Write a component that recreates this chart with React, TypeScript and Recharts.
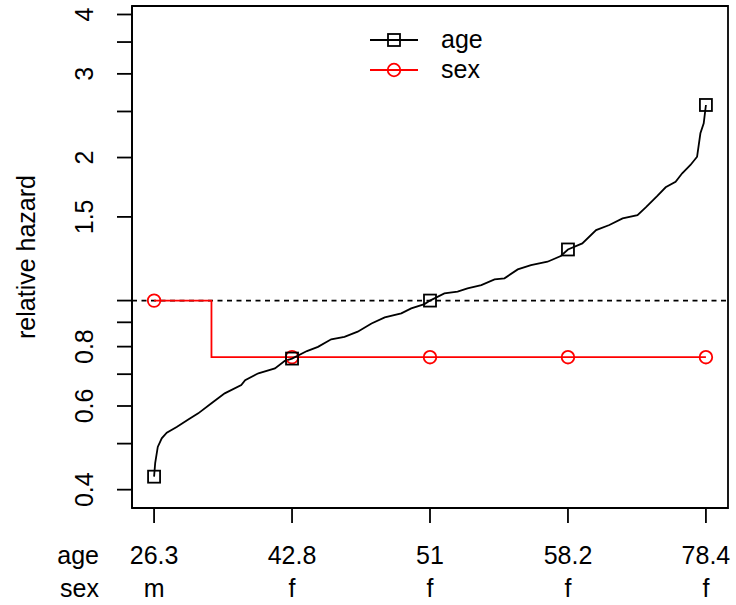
import React from 'react';
import { ComposedChart, Line, XAxis, YAxis, ReferenceLine, ReferenceArea } from 'recharts';

// position along the sorted observations (percent) and relative hazard for age
const ageX = [0, 0.2, 0.67, 1.39, 2.3, 4.1, 6.2, 8.0, 10.4, 12.8, 15.8, 16.5, 18.9, 21.9, 23.7, 25,
  27.7, 29.7, 32.1, 34.5, 36.9, 39.4, 41.8, 44.8, 46.6, 49.0, 50,
  52.6, 55.0, 56.8, 59.3, 61.7, 63.5, 65.9, 68.3, 71.3, 73.7, 75,
  77.6, 80.1, 82.5, 84.9, 87.6, 89.1, 91.2, 92.7, 94.5, 95.7, 97.2, 98.4, 99.0, 99.6, 100];
const ageHazard = [0.426, 0.455, 0.492, 0.513, 0.527, 0.542, 0.562, 0.579, 0.608, 0.638, 0.664, 0.680, 0.703, 0.720, 0.747, 0.755,
  0.783, 0.799, 0.829, 0.839, 0.860, 0.895, 0.922, 0.940, 0.963, 0.983, 1.0,
  1.035, 1.044, 1.061, 1.078, 1.108, 1.114, 1.163, 1.188, 1.207, 1.241, 1.281,
  1.319, 1.407, 1.442, 1.489, 1.513, 1.571, 1.660, 1.731, 1.779, 1.853, 1.929, 2.008, 2.249, 2.361, 2.58];

// relative hazard for sex (step function)
const sexX = [0, 10.4, 25, 50, 75, 100];
const sexHazard = [1, 0.76, 0.76, 0.76, 0.76, 0.76];

// marked positions and their labels
const markerX = [0, 25, 50, 75, 100];
const ageTickLabels = ['26.3', '42.8', '51', '58.2', '78.4'];
const sexTickLabels = ['m', 'f', 'f', 'f', 'f'];

const yTicks = [0.4, 0.5, 0.6, 0.7, 0.8, 0.9, 1, 1.5, 2, 2.5, 3, 3.5, 4];
const yLabelled = [0.4, 0.6, 0.8, 1.5, 2, 3, 4];

const ageData = ageX.map((x, i) => ({ x, v: ageHazard[i] }));
const sexData = sexX.map((x, i) => ({ x, v: sexHazard[i] }));

const FONT = 'Liberation Sans, Arial, Helvetica, sans-serif';
const FS = 25;
const LW = 1.8;

const squareDot = (props: any) => {
  const { cx, cy, payload, index } = props;
  if (!markerX.includes(payload.x)) return <g key={'a' + index} />;
  return <rect key={'a' + index} x={cx - 6} y={cy - 6} width={12} height={12} fill="none" stroke="#000" strokeWidth={LW} />;
};

const circleDot = (props: any) => {
  const { cx, cy, payload, index } = props;
  if (!markerX.includes(payload.x)) return <g key={'s' + index} />;
  return <circle key={'s' + index} cx={cx} cy={cy} r={6.3} fill="none" stroke="#ff0000" strokeWidth={LW} />;
};

const XTick = (props: any) => {
  const { x, y, payload, index } = props;
  const i = markerX.indexOf(payload.value);
  return (
    <g>
      {index === 0 && (
        <>
          <text x={99} y={y + 39} textAnchor="end" fontFamily={FONT} fontSize={FS} fill="#000">age</text>
          <text x={99} y={y + 72} textAnchor="end" fontFamily={FONT} fontSize={FS} fill="#000">sex</text>
        </>
      )}
      <text x={x} y={y + 39} textAnchor="middle" fontFamily={FONT} fontSize={FS} fill="#000">{ageTickLabels[i]}</text>
      <text x={x} y={y + 72} textAnchor="middle" fontFamily={FONT} fontSize={FS} fill="#000">{sexTickLabels[i]}</text>
    </g>
  );
};

const YTick = (props: any) => {
  const { x, y, payload } = props;
  if (!yLabelled.includes(payload.value)) return <g />;
  return (
    <text transform={`translate(${x - 22},${y}) rotate(-90)`} textAnchor="middle" fontFamily={FONT} fontSize={FS} fill="#000">
      {String(payload.value)}
    </text>
  );
};

export default function App() {
  return (
    <div style={{ position: 'absolute', left: 0, top: 0, width: 736, height: 605, background: '#fff' }}>
      <ComposedChart width={736} height={605} margin={{ top: 6, right: 8, bottom: 37, left: 72 }}>
        <XAxis
          type="number"
          dataKey="x"
          domain={[-4, 104]}
          allowDataOverflow
          ticks={markerX}
          interval={0}
          tickSize={15}
          height={60}
          axisLine={{ stroke: '#000', strokeWidth: LW }}
          tickLine={{ stroke: '#000', strokeWidth: LW }}
          tick={<XTick />}
        />
        <YAxis
          type="number"
          scale="log"
          domain={[0.366, 4.168]}
          allowDataOverflow
          ticks={yTicks}
          interval={0}
          tickSize={15}
          width={60}
          axisLine={{ stroke: '#000', strokeWidth: LW }}
          tickLine={{ stroke: '#000', strokeWidth: LW }}
          tick={<YTick />}
          label={{
            content: (p: any) => {
              const vb = p.viewBox || { y: 6, height: 502 };
              const cy = vb.y + vb.height / 2;
              return (
                <text transform={`translate(35,${cy}) rotate(-90)`} textAnchor="middle" fontFamily={FONT} fontSize={FS} fill="#000">
                  relative hazard
                </text>
              );
            },
          }}
        />
        <ReferenceArea x1={-4} x2={104} y1={0.366} y2={4.168} fill="none" stroke="#000" strokeWidth={LW} ifOverflow="visible" />
        <ReferenceLine y={1} stroke="#000" strokeWidth={LW} strokeDasharray="5 4.5" />
        <Line data={sexData} dataKey="v" type="stepAfter" stroke="#ff0000" strokeWidth={LW} dot={circleDot} isAnimationActive={false} />
        <Line data={ageData} dataKey="v" type="linear" stroke="#000" strokeWidth={LW} dot={squareDot} isAnimationActive={false} />
      </ComposedChart>
      <svg width={736} height={605} style={{ position: 'absolute', left: 0, top: 0, pointerEvents: 'none' }}>
        <line x1={370} x2={418} y1={40} y2={40} stroke="#000" strokeWidth={LW} />
        <rect x={388} y={34} width={12} height={12} fill="none" stroke="#000" strokeWidth={LW} />
        <text x={441} y={48} fontFamily={FONT} fontSize={FS} fill="#000">age</text>
        <line x1={370} x2={418} y1={70} y2={70} stroke="#ff0000" strokeWidth={LW} />
        <circle cx={394} cy={70} r={6.3} fill="none" stroke="#ff0000" strokeWidth={LW} />
        <text x={441} y={78} fontFamily={FONT} fontSize={FS} fill="#000">sex</text>
      </svg>
    </div>
  );
}
